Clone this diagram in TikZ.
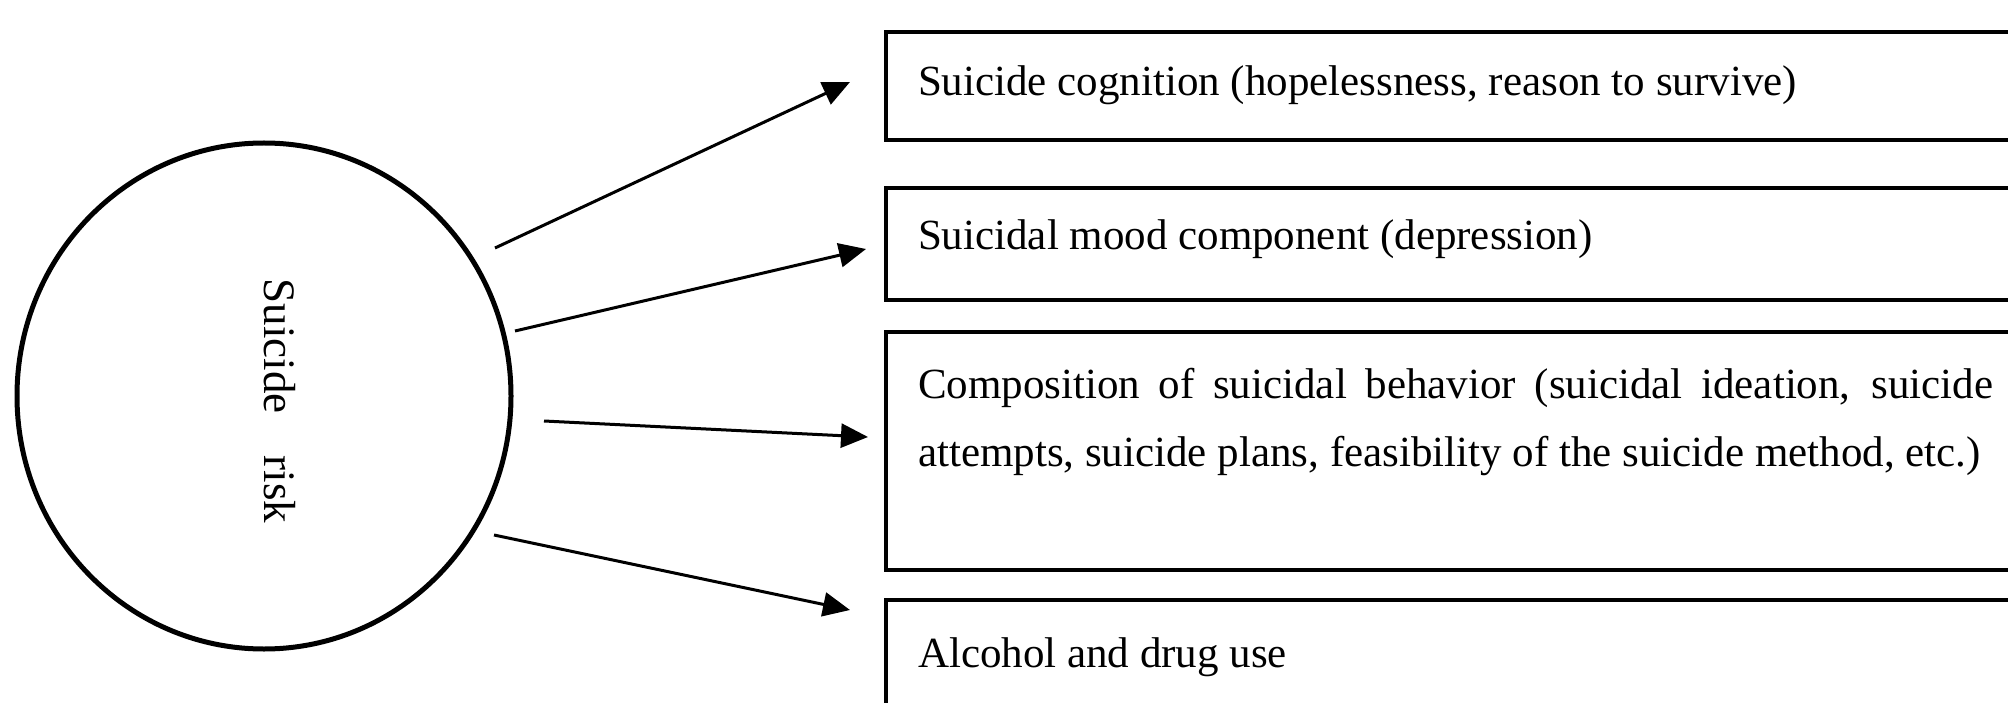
\documentclass[tikz,border=0pt]{standalone}
\usepackage{fontspec}
\setmainfont{Liberation Serif}
\usetikzlibrary{shapes.geometric,arrows.meta}

\begin{document}
\begin{tikzpicture}[x=1pt,y=-1pt,
  every node/.style={inner sep=0pt,outer sep=0pt},
  riskoval/.style={draw,line width=5pt,ellipse,minimum width=494pt,minimum height=506pt},
  factorbox/.style={draw,line width=4.5pt,rectangle,anchor=north west,minimum width=1160pt},
  boxtext/.style={anchor=base west,font=\fontsize{43}{68}\selectfont},
  link/.style={line width=3pt,-{Triangle[length=27pt,width=24pt]}}
]
% canvas
\useasboundingbox (0,0) rectangle (2008,703);
\clip (0,0) rectangle (2008,703);
\fill[white] (0,0) rectangle (2008,703);

% central concept
\node[riskoval] (risk) at (264,396) {};
\node[rotate=-90,font=\fontsize{45}{54}\selectfont] (risklabel) at (280,401) {Suicide\hspace{42pt}risk};

% factor boxes (they run past the right edge)
\node[factorbox,minimum height=108pt] (b1) at (886,32) {};
\node[factorbox,minimum height=112pt] (b2) at (886,188) {};
\node[factorbox,minimum height=238pt] (b3) at (886,332) {};
\node[factorbox,minimum height=140pt] (b4) at (886,600) {};

% box texts
\node[boxtext] (t1) at (918,96) {Suicide cognition (hopelessness, reason to survive)};
\node[boxtext] (t2) at (918,250) {Suicidal mood component (depression)};
\node[boxtext,anchor=base west,text width=1075pt,align=justify] (t3) at (918,398)
  {\emergencystretch=200pt Composition of suicidal behavior (suicidal ideation, suicide\linebreak
   attempts, suicide plans, feasibility of the suicide method, etc.)};
\node[boxtext] (t4) at (918,667) {Alcohol and drug use};

% connector end points
\coordinate (s1) at (495,248);
\coordinate (e1) at (850,82);
\coordinate (s2) at (515,331);
\coordinate (e2) at (866,249);
\coordinate (s3) at (544,421);
\coordinate (e3) at (868,437);
\coordinate (s4) at (494,535);
\coordinate (e4) at (850,610);

\draw[link] (s1) -- (e1);
\draw[link] (s2) -- (e2);
\draw[link] (s3) -- (e3);
\draw[link] (s4) -- (e4);
\end{tikzpicture}
\end{document}
